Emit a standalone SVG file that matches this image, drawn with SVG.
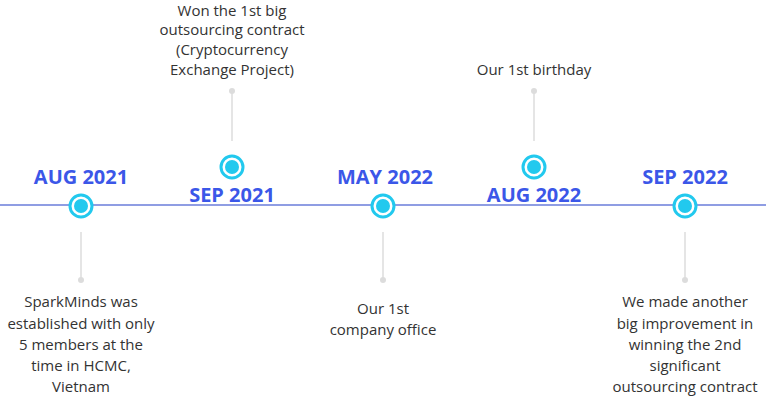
<svg xmlns="http://www.w3.org/2000/svg" width="766" height="396" viewBox="0 0 766 396">
<style>
.date{font-family:"Open Sans","Liberation Sans",sans-serif;font-weight:700;font-size:20px;fill:#3b57e8;text-anchor:middle}
.desc{font-family:"Open Sans","Liberation Sans",sans-serif;font-size:15px;fill:#333;text-anchor:middle}
.ring{fill:#fff;stroke:#22c9ee;stroke-width:3}
.core{fill:#22c9ee}
.stem{stroke:#dcdcdc;stroke-width:1.5}
.dot{fill:#dcdcdc}
</style>
<rect width="766" height="396" fill="#fff"/>
<g id="connectors">
<line x1="0" y1="205" x2="766" y2="205" stroke="#8f9de3" stroke-width="2"/>
<line class="stem" x1="81" y1="232" x2="81" y2="280"/><circle class="dot" cx="81" cy="280" r="3"/>
<line class="stem" x1="232" y1="141" x2="232" y2="91"/><circle class="dot" cx="232" cy="91" r="3"/>
<line class="stem" x1="383" y1="232" x2="383" y2="280"/><circle class="dot" cx="383" cy="280" r="3"/>
<line class="stem" x1="534" y1="141" x2="534" y2="91"/><circle class="dot" cx="534" cy="91" r="3"/>
<line class="stem" x1="685" y1="232" x2="685" y2="280"/><circle class="dot" cx="685" cy="280" r="3"/>
</g>
<g id="node-aug2021">
<circle class="ring" cx="81" cy="206" r="11"/><circle class="core" cx="81" cy="206" r="7"/>
<text class="date" x="81" y="184">AUG 2021</text>
<text class="desc"><tspan x="81" y="307">SparkMinds was</tspan><tspan x="81" y="329">established with only</tspan><tspan x="81" y="350">5 members at the</tspan><tspan x="81" y="371">time in HCMC,</tspan><tspan x="81" y="392">Vietnam</tspan></text>
</g>
<g id="node-sep2021">
<circle class="ring" cx="232" cy="167" r="11"/><circle class="core" cx="232" cy="167" r="7"/>
<text class="date" x="232" y="202">SEP 2021</text>
<text class="desc"><tspan x="232" y="16">Won the 1st big</tspan><tspan x="232" y="35">outsourcing contract</tspan><tspan x="232" y="55">(Cryptocurrency</tspan><tspan x="232" y="75">Exchange Project)</tspan></text>
</g>
<g id="node-may2022">
<circle class="ring" cx="383" cy="206" r="11"/><circle class="core" cx="383" cy="206" r="7"/>
<text class="date" x="385" y="184">MAY 2022</text>
<text class="desc"><tspan x="383" y="314">Our 1st</tspan><tspan x="383" y="335">company office</tspan></text>
</g>
<g id="node-aug2022">
<circle class="ring" cx="534" cy="167" r="11"/><circle class="core" cx="534" cy="167" r="7"/>
<text class="date" x="534" y="202">AUG 2022</text>
<text class="desc"><tspan x="534" y="75">Our 1st birthday</tspan></text>
</g>
<g id="node-sep2022">
<circle class="ring" cx="685" cy="206" r="11"/><circle class="core" cx="685" cy="206" r="7"/>
<text class="date" x="685" y="184">SEP 2022</text>
<text class="desc"><tspan x="685" y="307">We made another</tspan><tspan x="685" y="329">big improvement in</tspan><tspan x="685" y="350">winning the 2nd</tspan><tspan x="685" y="371">significant</tspan><tspan x="685" y="392">outsourcing contract</tspan></text>
</g>
</svg>
